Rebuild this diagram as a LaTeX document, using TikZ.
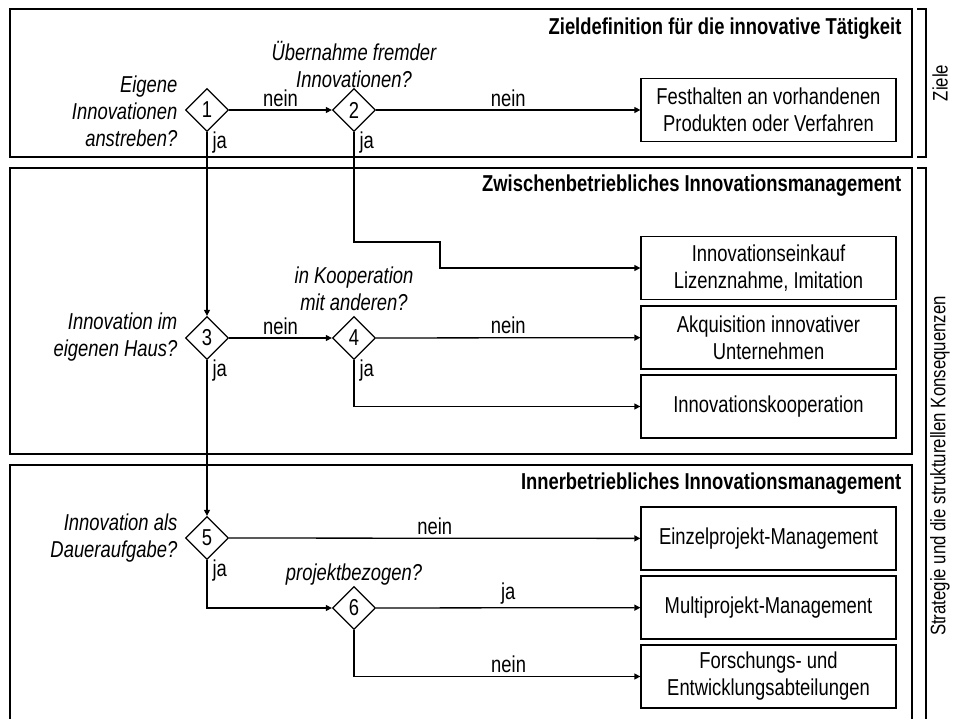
\documentclass[tikz,border=0pt]{standalone}
\usepackage{fontspec}
\setmainfont[FakeStretch=0.8]{Liberation Sans}
\usetikzlibrary{shapes.geometric,arrows.meta}
\newcommand{\txt}{\fontsize{23}{27}\selectfont}

\begin{document}
\begin{tikzpicture}[x=1pt, y=-1pt, line width=1.3pt,
  every node/.style={inner sep=0pt, font=\txt},
  entscheid/.style={diamond, draw, minimum size=43pt},
  ergebnis/.style={rectangle, draw, minimum width=255pt, minimum height=63pt, align=center},
  frage/.style={font=\txt\itshape, align=center},
  titel/.style={font=\txt\bfseries, anchor=east},
  seite/.style={rotate=90, font=\fontsize{21}{25}\selectfont},
  wahl/.style={inner sep=3pt},
  ja/.style={anchor=north west, xshift=5pt, yshift=1pt},
  pfeil/.style={-{Triangle[length=6pt,width=6pt]}}]
\clip (0,0) rectangle (953,719);
% 1. the three management levels and the brackets on the right
\draw (10,9) rectangle (912,157);
\draw (10,168) rectangle (912,454);
\draw (10,465) rectangle (912,740);
\draw (917,9) -- (926,9) -- (926,157) -- (917,157);
\draw (917,168) -- (926,168) -- (926,740);
\node[titel] (t1) at (902,29) {Zieldefinition für die innovative Tätigkeit};
\node[titel] (t2) at (902,186) {Zwischenbetriebliches Innovationsmanagement};
\node[titel] (t3) at (902,484) {Innerbetriebliches Innovationsmanagement};
\node[seite] (ziele) at (940,83) {Ziele};
\node[seite] (strategie) at (940,466) {Strategie und die strukturellen Konsequenzen};
% 2. decisions
\node[entscheid] (d1) at (207,110) {1};
\node[entscheid] (d2) at (354,110) {2};
\node[entscheid] (d3) at (207,338) {3};
\node[entscheid] (d4) at (354,338) {4};
\node[entscheid] (d5) at (207,538) {5};
\node[entscheid] (d6) at (354,608) {6};
\node[frage, align=right, anchor=east] (q1) at (178,111) {Eigene\\Innovationen\\anstreben?};
\node[frage] (q2) at (354,64) {Übernahme fremder\\Innovationen?};
\node[frage, align=right, anchor=east] (q3) at (178,337) {Innovation im\\eigenen Haus?};
\node[frage] (q4) at (354,289) {in Kooperation\\mit anderen?};
\node[frage, align=right, anchor=east] (q5) at (178,538) {Innovation als\\Daueraufgabe?};
\node[frage] (q6) at (354,575) {projektbezogen?};
% 3. outcomes
\node[ergebnis] (festhalten) at (768.5,110) {Festhalten an vorhandenen\\Produkten oder Verfahren};
\node[ergebnis] (einkauf) at (768.5,268) {Innovationseinkauf\\Lizenznahme, Imitation};
\node[ergebnis] (akquisition) at (768.5,337.5) {Akquisition innovativer\\Unternehmen};
\node[ergebnis] (kooperation) at (768.5,406.5) {Innovationskooperation};
\node[ergebnis] (einzel) at (768.5,538.5) {Einzelprojekt-Management};
\node[ergebnis] (multi) at (768.5,607.5) {Multiprojekt-Management};
\node[ergebnis] (fue) at (768.5,676.5) {Forschungs- und\\Entwicklungsabteilungen};
\coordinate (k2) at (440,242);
% 4. connectors
\draw[pfeil] (d1) -- (d2) node[wahl, midway, above] {nein};
\draw[pfeil] (d2) -- (festhalten) node[wahl, midway, above] {nein};
\draw[pfeil] (d1.south) node[ja] {ja} -- (d3);
\draw[pfeil] (d2.south) node[ja] {ja} |- (k2) |- (einkauf.west);
\draw[pfeil] (d3) -- (d4) node[wahl, midway, above] {nein};
\draw[pfeil] (d4) -- (akquisition) node[wahl, midway, above] {nein};
\draw[pfeil] (d3.south) node[ja] {ja} -- (d5);
\draw[pfeil] (d4.south) node[ja] {ja} |- (kooperation.west);
\draw[pfeil] (d5) -- (einzel) node[wahl, midway, above] {nein};
\draw[pfeil] (d5.south) node[ja] {ja} |- (d6.west);
\draw[pfeil] (d6) -- (multi) node[wahl, midway, above] {ja};
\draw[pfeil] (d6.south) |- (fue.west) node[wahl, pos=0.77, above] {nein};
\end{tikzpicture}
\end{document}
